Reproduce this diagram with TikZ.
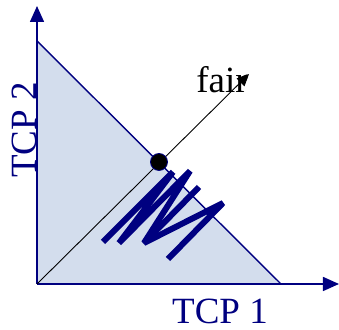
\documentclass[tikz,border=0pt]{standalone}
\usepackage{fontspec}
\setmainfont{Liberation Serif}
\usetikzlibrary{arrows.meta}
\definecolor{tcpblue}{RGB}{0,0,128}
\definecolor{regionfill}{RGB}{211,221,237}

\begin{document}
\begin{tikzpicture}[x=0.5pt, y=-0.5pt, every node/.style={font=\fontsize{18.5}{21}\selectfont}]
  \useasboundingbox (0,0) rectangle (339,330);

  %% Corners of the region and axes
  \coordinate (origin) at (37,284);
  \coordinate (ytop) at (37,41);
  \coordinate (xright) at (281,284);
  \coordinate (yend) at (37,6);
  \coordinate (xend) at (339,284);
  \coordinate (fairend) at (249,74);

  % Feasible region (triangle)
  \fill[regionfill] (origin) -- (ytop) -- (xright) -- cycle;
  \draw[tcpblue, line width=0.7pt] (ytop) -- (xright);

  % Axes
  \draw[-{Triangle[length=8pt, width=7pt]}, tcpblue, line width=0.75pt] (origin) -- (yend);
  \draw[-{Triangle[length=8pt, width=7pt]}, tcpblue, line width=0.75pt] (origin) -- (xend);

  % Fairness line with the equilibrium point
  \draw[-{Triangle[length=6pt, width=5.5pt]}, line width=0.45pt] (origin) -- (fairend);
  \node[circle, fill=black, draw=tcpblue, line width=0.4pt, inner sep=0pt, minimum size=8.5pt] (eq) at (159,162) {};

  % Oscillating trajectory
  \draw[tcpblue, line width=3pt, line join=bevel]
    (103,242) -- (173,172) -- (119,243) -- (190,171) -- (144,243) -- (223,203) -- (168,259);
  \draw[tcpblue, line width=3pt] (144,243) -- (199,187);

  %% Labels
  \node (fair) at (222,80) {fair};
  \node[tcpblue, inner sep=1pt] (tcpone) at (220,311) {TCP 1};
  \node[tcpblue, rotate=90] (tcptwo) at (24,130) {TCP 2};

\end{tikzpicture}
\end{document}
